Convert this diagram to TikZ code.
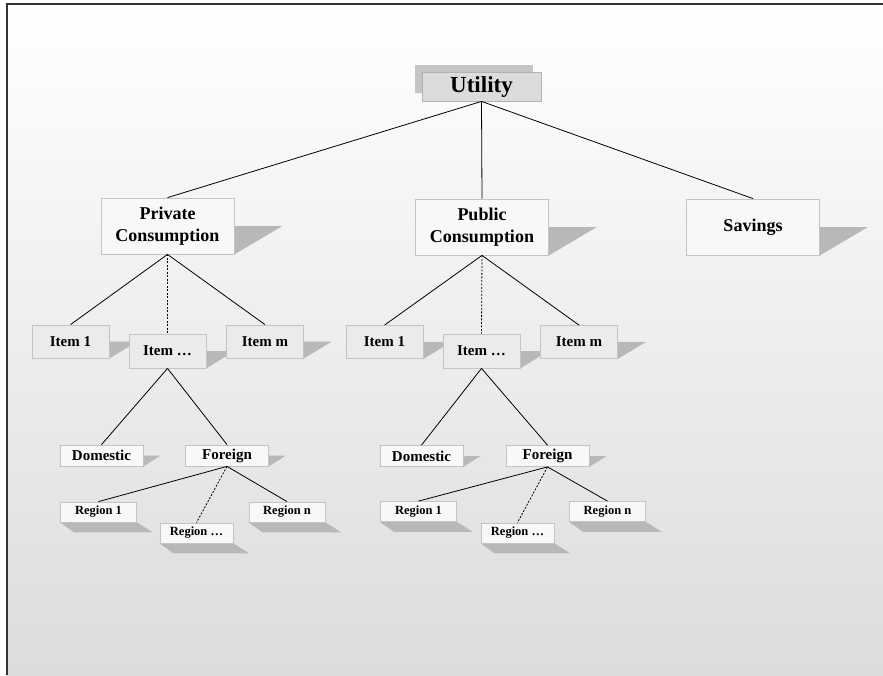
\documentclass[tikz,border=0pt]{standalone}
\usepackage{fontspec}
\setmainfont{Liberation Serif}
\usetikzlibrary{calc}
\pgfdeclarelayer{back}
\pgfdeclarelayer{shad}
\pgfsetlayers{back,shad,main}
\definecolor{shadowc}{HTML}{B8B8B8}
\definecolor{boxline}{HTML}{C4C4C4}
\definecolor{lightbox}{HTML}{F8F8F8}
\definecolor{itemfill}{HTML}{EBEBEB}
\definecolor{utilfill}{HTML}{DCDCDC}
\definecolor{utilback}{HTML}{C4C4C4}
\definecolor{bgbottom}{HTML}{DCDCDC}
\newcommand{\rshadow}[2]{\fill[shadowc] (#1.south west) -- (#1.south east) -- ($(#1.east)+(#2,0)$) -- ($(#1.west)+(#2,0)$) -- cycle;}
\newcommand{\dshadow}[1]{\fill[shadowc] (#1.south west) -- (#1.south east) -- ($(#1.south east)+(16,10)$) -- ($(#1.south west)+(14,10)$) -- cycle;}
\begin{document}
\begin{tikzpicture}[x=1pt,y=-1pt,
  base/.style={draw=boxline, line width=0.8pt, inner sep=0pt, align=center},
  utilbox/.style={base, fill=utilfill, draw=black!30, minimum width=119pt, minimum height=29pt, font=\fontsize{23}{26}\selectfont\bfseries},
  consbox/.style={base, fill=lightbox, minimum width=133pt, minimum height=56pt, font=\fontsize{18}{21.5}\selectfont\bfseries},
  itembox/.style={base, fill=itemfill, minimum width=77pt, minimum height=33pt, font=\fontsize{15}{17}\selectfont\bfseries},
  lthree/.style={base, fill=lightbox, minimum width=83pt, minimum height=21pt, font=\fontsize{15}{17}\selectfont\bfseries},
  regbox/.style={base, fill=lightbox, minimum width=76pt, minimum height=20pt, font=\fontsize{12.5}{14}\selectfont\bfseries},
  edge/.style={line width=0.8pt, black},
  dedge/.style={line width=0.8pt, black, dash pattern=on 2pt off 1.5pt}]
\useasboundingbox (0,0) rectangle (883,675);
\begin{pgfonlayer}{back}
  \shade[top color=white, bottom color=bgbottom] (7,4) rectangle (883,675);
  \draw[line width=1.6pt, black!80] (7,675) -- (7,4) -- (883,4);
\end{pgfonlayer}

% Utility
\fill[utilback] (415,65) rectangle (533,93);
\node[utilbox] (u) at (481.5,86.5) {Utility};

% level 1
\node[consbox] (pc) at (167.5,226) {Private\\Consumption};
\node[consbox] (pu) at (482,227) {Public\\Consumption};
\node[consbox] (sav) at (753,227) {Savings};

% level 2
\node[itembox] (i1L) at (70.5,341.5) {Item 1};
\node[itembox, minimum height=34pt] (idL) at (167.5,351) {Item \dots};
\node[itembox] (imL) at (265,341.5) {Item m};
\node[itembox] (i1R) at (384.5,342) {Item 1};
\node[itembox, minimum height=34pt] (idR) at (481.5,351) {Item \dots};
\node[itembox] (imR) at (579,342) {Item m};

% level 3
\node[lthree] (domL) at (101.5,455.5) {Domestic};
\node[lthree] (forL) at (227,455.5) {Foreign};
\node[lthree] (domR) at (421.5,456) {Domestic};
\node[lthree] (forR) at (547.5,456) {Foreign};

% level 4
\node[regbox] (r1L) at (98.5,512) {Region 1};
\node[regbox, minimum width=73pt] (rdL) at (196.5,533) {Region \dots};
\node[regbox] (rnL) at (287,512) {Region n};
\node[regbox] (r1R) at (418.5,511.5) {Region 1};
\node[regbox, minimum width=73pt] (rdR) at (517.5,533) {Region \dots};
\node[regbox] (rnR) at (607.5,511.5) {Region n};

\begin{pgfonlayer}{shad}
  \rshadow{pc}{48}\rshadow{pu}{48}\rshadow{sav}{48}
  \rshadow{i1L}{28}\rshadow{idL}{28}\rshadow{imL}{28}
  \rshadow{i1R}{28}\rshadow{idR}{28}\rshadow{imR}{28}
  \rshadow{domL}{17}\rshadow{forL}{17}\rshadow{domR}{17}\rshadow{forR}{17}
  \dshadow{r1L}\dshadow{rdL}\dshadow{rnL}
  \dshadow{r1R}\dshadow{rdR}\dshadow{rnR}
\end{pgfonlayer}

% connectors
\draw[edge] (u.south) -- (pc.north);
\draw[edge] (u.south) -- (pu.north);
\draw[edge] (u.south) -- (sav.north);

\draw[edge] (pc.south) -- (i1L.north);
\draw[dedge] (pc.south) -- (idL.north);
\draw[edge] (pc.south) -- (imL.north);
\draw[edge] (pu.south) -- (i1R.north);
\draw[dedge] (pu.south) -- (idR.north);
\draw[edge] (pu.south) -- (imR.north);

\draw[edge] (idL.south) -- (domL.north);
\draw[edge] (idL.south) -- (forL.north);
\draw[edge] (idR.south) -- (domR.north);
\draw[edge] (idR.south) -- (forR.north);

\draw[edge] (forL.south) -- (r1L.north);
\draw[dedge] (forL.south) -- (rdL.north);
\draw[edge] (forL.south) -- (rnL.north);
\draw[edge] (forR.south) -- (r1R.north);
\draw[dedge] (forR.south) -- (rdR.north);
\draw[edge] (forR.south) -- (rnR.north);
\end{tikzpicture}
\end{document}
